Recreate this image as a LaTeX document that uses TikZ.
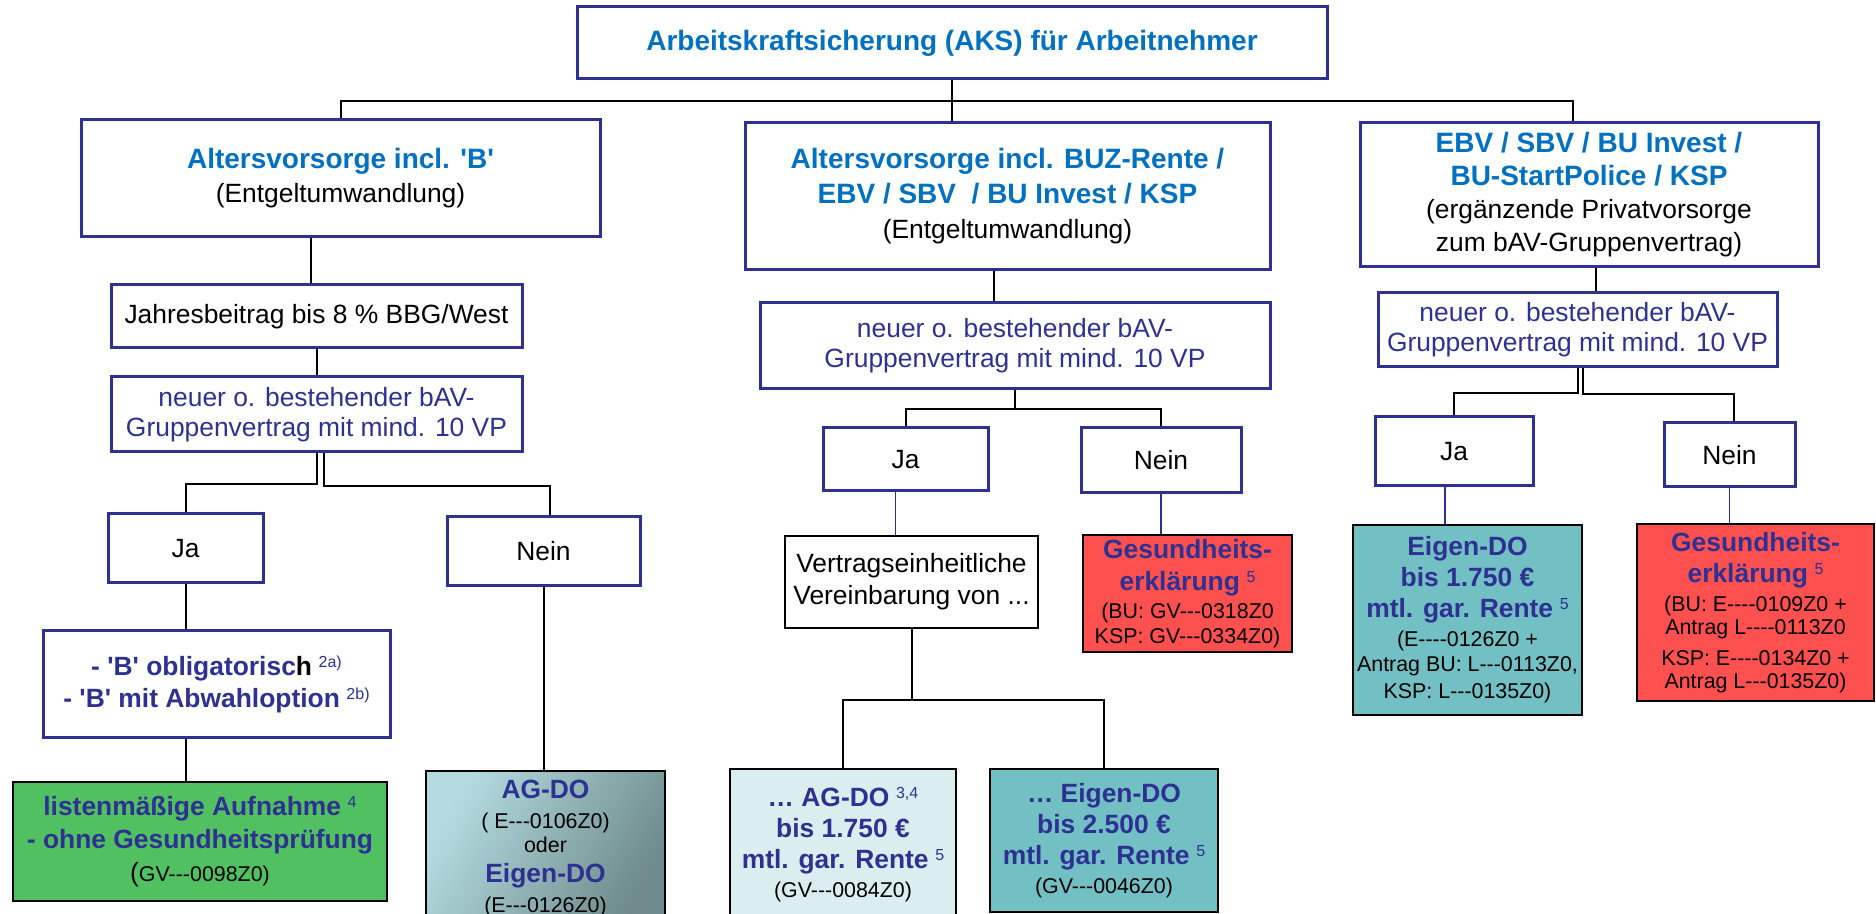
\documentclass[tikz,border=0pt]{standalone}
\usepackage{fontspec}
\setmainfont{Liberation Sans}[Ligatures=TeXOff]
\usetikzlibrary{calc}

\definecolor{aksblau}{HTML}{0070C0}
\definecolor{aksnavy}{HTML}{2E3192}
\definecolor{aksgruen}{HTML}{50C060}
\definecolor{aksrot}{HTML}{FF5050}
\definecolor{akstuerkis}{HTML}{72BFC4}
\definecolor{akshell}{HTML}{DAEEF0}
\definecolor{aksgrau1}{HTML}{B4DCE0}
\definecolor{aksgrau2}{HTML}{6E8A8A}

\newcommand\kopf[1]{{\fontsize{14}{17}\selectfont\bfseries\color{aksblau}#1}}
\newcommand\fett[1]{{\bfseries\color{aksnavy}#1}}
\newcommand\klein[1]{{\fontsize{10.7}{13}\selectfont #1}}
\newcommand\hoch[1]{\nobreak\hspace{.25em}\raisebox{4pt}{\fontsize{8}{8}\selectfont\mdseries\color{aksnavy}#1}}

\tikzset{
  every node/.style={align=center, inner sep=0pt, font=\fontsize{13.2}{16}\selectfont},
  kasten/.style={draw=aksnavy, line width=1.5pt, fill=white},
  schwarzkasten/.style={draw=black, line width=1.2pt},
  linie/.style={black, line width=1pt},
  blaulinie/.style={aksnavy, line width=.8pt}
}

\begin{document}
\begin{tikzpicture}[x=.5pt, y=-.5pt]
\clip (0,0) rectangle (1876,914);

\node[kasten, minimum width=375pt, minimum height=36pt] (aks) at (952,43) {\kopf{Arbeitskraftsicherung (AKS) für Arbeitnehmer}};

\node[kasten, minimum width=259.5pt, minimum height=58.5pt, font=\fontsize{13.2}{17}\selectfont] (lbav) at (340.5,178.5)
  {\kopf{Altersvorsorge incl. 'B'}\\(Entgeltumwandlung)};
\node[kasten, minimum width=262.5pt, minimum height=73.5pt, font=\fontsize{13.2}{17.5}\selectfont] (mbav) at (1007.5,196.5)
  {\kopf{Altersvorsorge incl. BUZ-Rente /}\\\kopf{EBV / SBV\ \ / BU Invest / KSP}\\(Entgeltumwandlung)};
\node[kasten, minimum width=229pt, minimum height=72pt, font=\fontsize{13.2}{16.5}\selectfont] (rpriv) at (1589,195)
  {\kopf{EBV / SBV / BU Invest /}\\\kopf{BU-StartPolice / KSP}\\(ergänzende Privatvorsorge\\zum bAV-Gruppenvertrag)};

\node[kasten, minimum width=205.5pt, minimum height=31.5pt] (jahr) at (316.5,316.5) {Jahresbeitrag bis 8 \% BBG/West};
\node[kasten, minimum width=205.5pt, minimum height=37.5pt, text=aksnavy, font=\fontsize{13.2}{15}\selectfont] (lgrp) at (316.5,414.5)
  {neuer o. bestehender bAV-\\Gruppenvertrag mit mind. 10 VP};
\node[kasten, minimum width=77.5pt, minimum height=34.5pt] (lja) at (185.5,548.5) {Ja};
\node[kasten, minimum width=96.5pt, minimum height=34.5pt] (lnein) at (543.5,551.5) {Nein};
\node[kasten, minimum width=173.5pt, minimum height=53pt] (lopt) at (216.5,684)
  {\fett{- 'B' obligatorisc}{\bfseries h}\hoch{2a)}\\\fett{- 'B' mit Abwahloption}\hoch{2b)}};
\node[schwarzkasten, fill=aksgruen, minimum width=187pt, minimum height=59.5pt, font=\fontsize{13.2}{16.5}\selectfont] (lliste) at (200,841.5)
  {\fett{listenmäßige Aufnahme}\hoch{4}\\\fett{- ohne Gesundheitsprüfung}\\(\klein{GV---0098Z0)}};
\node[schwarzkasten, left color=aksgrau1, right color=aksgrau2, shading angle=60, minimum width=119.5pt, minimum height=77pt, font=\fontsize{13.2}{15}\selectfont] (ldo) at (545.5,848)
  {\fett{AG-DO}\\\klein{( E---0106Z0)}\\[-3pt]\klein{oder}\\\fett{Eigen-DO}\\\klein{(E---0126Z0)}};

\node[kasten, minimum width=255pt, minimum height=43pt, text=aksnavy, font=\fontsize{13.2}{15}\selectfont] (mgrp) at (1015,346)
  {neuer o. bestehender bAV-\\Gruppenvertrag mit mind. 10 VP};
\node[kasten, minimum width=82.5pt, minimum height=31.5pt] (mja) at (905.5,459.5) {Ja};
\node[kasten, minimum width=80pt, minimum height=32.5pt] (mnein) at (1161,460.5) {Nein};
\node[schwarzkasten, fill=white, minimum width=126.5pt, minimum height=46pt] (mver) at (911.5,582)
  {Vertragseinheitliche\\Vereinbarung von ...};
\node[schwarzkasten, fill=aksrot, minimum width=104.5pt, minimum height=58.5pt] (mges) at (1187.5,593.5)
  {\fett{Gesundheits-}\\\fett{erklärung}\hoch{5}\\[-2pt]\klein{(BU: GV---0318Z0}\\[-3.5pt]\klein{KSP: GV---0334Z0)}};
\node[schwarzkasten, fill=akshell, minimum width=113pt, minimum height=76pt, font=\fontsize{13.2}{15.5}\selectfont] (mag) at (843,845)
  {\fett{… AG-DO}\hoch{3,4}\\\fett{bis 1.750 €}\\\fett{mtl. gar. Rente}\hoch{5}\\[-1pt]\klein{(GV---0084Z0)}};
\node[schwarzkasten, fill=akstuerkis, minimum width=114pt, minimum height=71.5pt, font=\fontsize{13.2}{15.5}\selectfont] (meig) at (1104,840.5)
  {\fett{… Eigen-DO}\\\fett{bis 2.500 €}\\\fett{mtl. gar. Rente}\hoch{5}\\[-1pt]\klein{(GV---0046Z0)}};

\node[kasten, minimum width=199.5pt, minimum height=37pt, text=aksnavy, font=\fontsize{13.2}{15}\selectfont] (rgrp) at (1577.5,330)
  {neuer o. bestehender bAV-\\Gruppenvertrag mit mind. 10 VP};
\node[kasten, minimum width=79pt, minimum height=34.5pt] (rja) at (1454,451.5) {Ja};
\node[kasten, minimum width=65.5pt, minimum height=32pt] (rnein) at (1729.5,455) {Nein};
\node[schwarzkasten, fill=akstuerkis, minimum width=114.5pt, minimum height=95pt, font=\fontsize{13.2}{15.5}\selectfont] (reig) at (1467.5,620)
  {\fett{Eigen-DO}\\\fett{bis 1.750 €}\\\fett{mtl. gar. Rente}\hoch{5}\\[-1pt]\klein{(E----0126Z0 +}\\[-3pt]\klein{Antrag BU: L---0113Z0,}\\[-2pt]\klein{KSP: L---0135Z0)}};
\node[schwarzkasten, fill=aksrot, minimum width=118.5pt, minimum height=88.5pt, font=\fontsize{13.2}{15.5}\selectfont] (rges) at (1755.5,612.5)
  {\fett{Gesundheits-}\\\fett{erklärung}\hoch{5}\\[-1pt]\klein{(BU: E----0109Z0 +}\\[-4pt]\klein{Antrag L----0113Z0}\\\klein{KSP: E----0134Z0 +}\\[-4pt]\klein{Antrag L---0135Z0)}};

\draw[linie] (aks.south) -- ++(0,21) coordinate (bus);
\draw[linie] (bus) -| (lbav.north);
\draw[linie] (bus) -- (bus |- mbav.north);
\draw[linie] (bus) -| ([xshift=-8pt]rpriv.north);

\draw[linie] ([xshift=-3pt]jahr.north |- lbav.south) -- ([xshift=-3pt]jahr.north);
\draw[linie] (jahr) -- (lgrp);
\draw[linie] (lgrp.south) -- ++(0,31) -| (lja.north);
\draw[linie] ([xshift=3.5pt]lgrp.south) -- ++(0,33) -| ([xshift=3pt]lnein.north);
\draw[linie] (lja) -- (lja |- lopt.north);
\draw[linie] (lopt.south -| lja) -- (lliste.north -| lja);
\draw[linie] (lnein) -- (lnein |- ldo.north);

\draw[linie] ([xshift=-7pt]mbav.south) -- ([xshift=-7pt]mbav.south |- mgrp.north);
\draw[linie] (mgrp.south) -- ++(0,19) -| (mja.north);
\draw[linie] (mgrp.south) ++(0,19) -| (mnein.north);
\draw[blaulinie] ([xshift=-5pt]mja.south) -- ([xshift=-5pt]mja.south |- mver.north);
\draw[linie] (mver.south) -- ++(0,71) -| (mag.north);
\draw[linie] (mver.south) ++(0,71) -| (meig.north);
\draw[blaulinie] (mnein) -- (mnein |- mges.north);

\draw[linie] ([xshift=3.5pt]rpriv.south) -- ([xshift=3.5pt]rpriv.south |- rgrp.north);
\draw[linie] (rgrp.south) -- ++(0,25) -| (rja.north);
\draw[linie] ([xshift=2.5pt]rgrp.south) -- ++(0,26) -| ([xshift=2pt]rnein.north);
\draw[blaulinie] ([xshift=-4.5pt]rja.south) -- ([xshift=-4.5pt]rja.south |- reig.north);
\draw[blaulinie] (rnein) -- (rnein |- rges.north);
\end{tikzpicture}
\end{document}
